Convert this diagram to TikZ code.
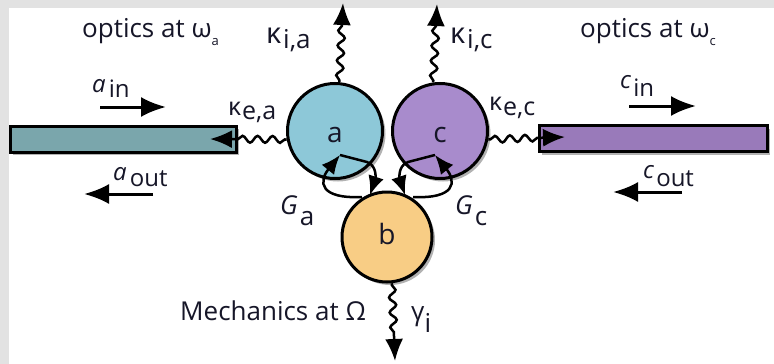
\documentclass[tikz,border=0pt]{standalone}
\usepackage{fontspec}
\setmainfont{Open Sans}
\usetikzlibrary{arrows.meta,decorations.pathmorphing,shadows,calc}
\definecolor{ink}{RGB}{22,22,40}
\definecolor{aFill}{RGB}{141,200,216}
\definecolor{cFill}{RGB}{168,139,204}
\definecolor{bFill}{RGB}{248,205,133}
\definecolor{wgAFill}{RGB}{122,166,172}
\definecolor{wgCFill}{RGB}{153,122,186}
\definecolor{frame}{RGB}{226,226,226}
\newcommand\fsz[1]{\fontsize{#1}{#1}\selectfont}
\begin{document}
\begin{tikzpicture}[x=1pt,y=-1pt,
  shad/.style={drop shadow={shadow xshift=3pt,shadow yshift=-3pt,opacity=0.3,fill=black}},
  mode/.style={circle,draw=black,line width=3pt,minimum size=95pt,inner sep=0pt,shad},
  guide/.style={rectangle,draw=black,line width=3pt,inner sep=0pt,shad},
  cl/.style={text=ink,font=\fsz{28}},
  txt/.style={inner sep=0pt,anchor=base west,text=ink,font=\fsz{26}},
  wavy/.style={line width=2.5pt,-{Latex[length=22pt,width=18pt]},decorate,
     decoration={snake,segment length=15pt,amplitude=3.4pt,pre length=2pt,post length=22pt}},
  flow/.style={line width=3pt,-{Latex[length=25pt,width=20pt]}},
  loopar/.style={line width=2.5pt,-{Latex[length=19pt,width=16pt]}}
]
\useasboundingbox (0,0) rectangle (774,364);
\fill[frame] (0,0) rectangle (774,364);
\fill[white] (9,8) rectangle (774,364);

% waveguides
\node[guide,fill=wgAFill,minimum width=226pt,minimum height=26pt] (wgA) at (123,139) {};
\node[guide,fill=wgCFill,minimum width=228pt,minimum height=26pt] (wgC) at (653,138.5) {};

% modes
\node[mode,fill=aFill,label={[cl,yshift=-4pt]center:a}] (a) at (335,131) {};
\node[mode,fill=cFill,label={[cl,yshift=-4pt]center:c}] (c) at (440,131) {};
\node[mode,fill=bFill,minimum size=90pt,label={[cl,yshift=3pt]center:b}] (b) at (387,237) {};

% free ends
\coordinate (kiaTip) at (343,3);
\coordinate (kicTip) at (437,4);
\coordinate (giTip) at (395,361);
\coordinate (keaTip) at (210,139);
\coordinate (kecTip) at (565,137);

\draw[wavy] (a.85) -- (kiaTip);
\draw[wavy] (c.98) -- (kicTip);
\draw[wavy] (b.-84) -- (giTip);
\draw[wavy] (a.190) -- (keaTip);
\draw[wavy] (c.-10) -- (kecTip);

% in/out arrows
\coordinate (ainS) at (100,107);  \coordinate (ainE) at (166,107);
\coordinate (aoutS) at (153,194); \coordinate (aoutE) at (84,194);
\coordinate (cinS) at (629,106);  \coordinate (cinE) at (696,106);
\coordinate (coutS) at (682,192); \coordinate (coutE) at (613,192);
\draw[flow] (ainS) -- (ainE);
\draw[flow] (aoutS) -- (aoutE);
\draw[flow] (cinS) -- (cinE);
\draw[flow] (coutS) -- (coutE);

% coupling loops
\coordinate (VA) at (340,155);
\coordinate (LA1) at (362,197);
\coordinate (LA2) at (367,162);
\coordinate (LAt) at (370,195);
\draw[loopar] (LA1) .. controls (320,199) and (318,182) .. (VA);
\draw[loopar,line join=round] (VA) -- (LA2) .. controls (378,166) and (375,180) .. (LAt);
\coordinate (VC) at (435,155);
\coordinate (LC1) at (413,197);
\coordinate (LC2) at (408,162);
\coordinate (LCt) at (405,195);
\draw[loopar] (LC1) .. controls (455,199) and (457,182) .. (VC);
\draw[loopar,line join=round] (VC) -- (LC2) .. controls (397,166) and (400,180) .. (LCt);

% texts
\node[txt] (optA) at (82,37) {optics at ω\raisebox{-9pt}{\fsz{13}a}};
\node[txt] (optC) at (580,37) {optics at ω\raisebox{-9pt}{\fsz{13}c}};
\node[txt] (kia) at (266,43) {{\fsz{29}κ}\hspace{2pt}\raisebox{-5pt}{i,a}};
\node[txt] (kic) at (450,43) {{\fsz{29}κ}\hspace{2pt}\raisebox{-5pt}{i,c}};
\node[txt,font=\fsz{25}] (kea) at (228,115) {κ\hspace{1pt}\raisebox{-4pt}{e,a}};
\node[txt,font=\fsz{25}] (kec) at (489,110) {κ\hspace{1pt}\raisebox{-5pt}{e,c}};
\node[txt,font=\fsz{24}] (ain) at (92,92) {\textit{a}\hspace{3pt}\raisebox{-5pt}{in}};
\node[txt,font=\fsz{24}] (aout) at (113,180) {\textit{a}\hspace{3pt}\raisebox{-6pt}{out}};
\node[txt,font=\fsz{24}] (cin) at (620,88) {\textit{c}\hspace{2pt}\raisebox{-8pt}{in}};
\node[txt,font=\fsz{24}] (cout) at (643,178) {\textit{c}\hspace{2pt}\raisebox{-8pt}{out}};
\node[txt,font=\fsz{26}] (Ga) at (280,214) {\textit{G}\hspace{2pt}\raisebox{-11pt}{a}};
\node[txt,font=\fsz{26}] (Gc) at (455,214) {\textit{G}\hspace{2pt}\raisebox{-11pt}{c}};
\node[txt] (gi) at (411,320) {γ\raisebox{-12pt}{i}};
\node[txt,font=\fsz{26}] (mech) at (180,320) {Mechanics at Ω};
\end{tikzpicture}
\end{document}
